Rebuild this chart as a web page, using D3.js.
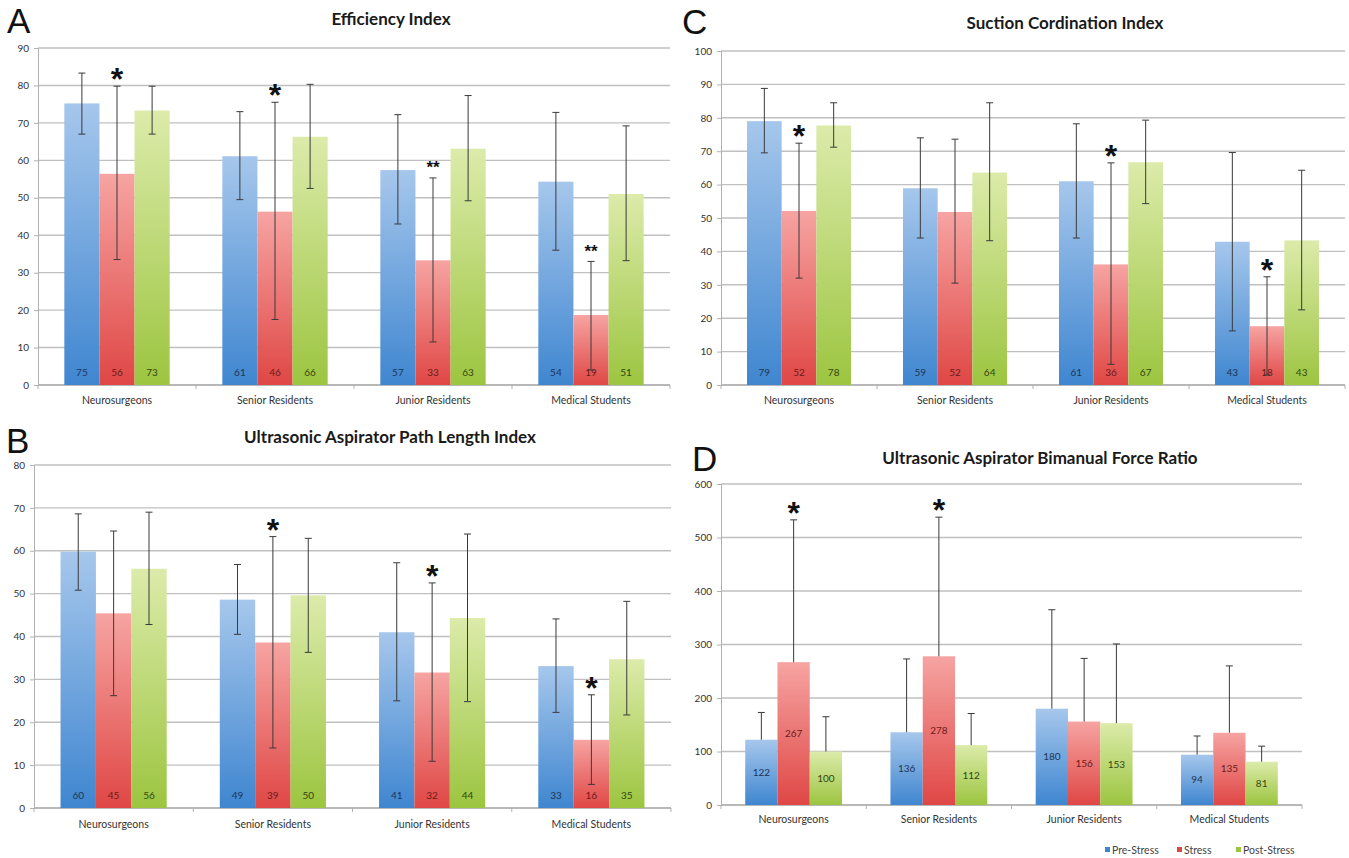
<!DOCTYPE html>
<html>
<head>
<meta charset="utf-8">
<script src="https://cdn.jsdelivr.net/npm/d3@7"></script>
<style>
  body { margin: 0; background: #fff; }
  svg { display: block; }
</style>
</head>
<body>
<div id="chart"></div>
<script>
const categories = ["Neurosurgeons", "Senior Residents", "Junior Residents", "Medical Students"];
const seriesNames = ["Pre-Stress", "Stress", "Post-Stress"];

// A - Efficiency Index (rows = categories, cols = Pre / Stress / Post)
const effMean = [[75.2, 56.4, 73.3], [61.1, 46.3, 66.3], [57.4, 33.3, 63.1], [54.3, 18.7, 51.0]];
const effLow  = [[67, 33.5, 67], [49.5, 17.5, 52.5], [43, 11.5, 49.2], [36, 4, 33.2]];
const effHigh = [[83.3, 79.8, 79.8], [73, 75.5, 80.3], [72.2, 55.3, 77.3], [72.8, 33, 69.2]];
const effStars = [["Neurosurgeons", "*"], ["Senior Residents", "*"], ["Junior Residents", "**"], ["Medical Students", "**"]];
const effTicks = d3.range(0, 91, 10);

// B - Ultrasonic Aspirator Path Length Index
const pathMean = [[59.8, 45.4, 55.8], [48.6, 38.6, 49.6], [41.0, 31.6, 44.3], [33.1, 15.9, 34.7]];
const pathLow  = [[50.8, 26.2, 42.8], [40.5, 14, 36.3], [25, 10.9, 24.8], [22.3, 5.5, 21.7]];
const pathHigh = [[68.6, 64.6, 69], [56.8, 63.3, 62.9], [57.2, 52.5, 63.9], [44.1, 26.4, 48.2]];
const pathStars = [["Senior Residents", "*"], ["Junior Residents", "*"], ["Medical Students", "*"]];
const pathTicks = d3.range(0, 81, 10);

// C - Suction Cordination Index
const sucMean = [[79.0, 52.1, 77.7], [58.9, 51.8, 63.6], [61.0, 36.1, 66.7], [42.9, 17.6, 43.3]];
const sucLow  = [[69.5, 32, 71.2], [44, 30.5, 43.2], [44, 6.2, 54.3], [16.2, 3, 22.5]];
const sucHigh = [[88.8, 72.4, 84.5], [74, 73.6, 84.5], [78.2, 66.5, 79.3], [69.6, 32.4, 64.3]];
const sucStars = [["Neurosurgeons", "*"], ["Junior Residents", "*"], ["Medical Students", "*"]];
const sucTicks = d3.range(0, 101, 10);

// D - Ultrasonic Aspirator Bimanual Force Ratio (upper error only)
const forceMean = [[122, 267, 100], [136, 278, 112], [180, 156, 153], [94, 135, 81]];
const forceHigh = [[173, 533, 165], [273, 538, 171], [365, 274, 301], [129, 260, 110]];
const forceStars = [["Neurosurgeons", "*"], ["Senior Residents", "*"]];
const forceTicks = d3.range(0, 601, 100);

const colorTop = { "Pre-Stress": "#a6c7ec", "Stress": "#f6a4a2", "Post-Stress": "#dcebaa" };
const colorBottom = { "Pre-Stress": "#3f86d0", "Stress": "#df4745", "Post-Stress": "#9cc540" };
const labelColor = { "Pre-Stress": "#1d3557", "Stress": "#6b1a1a", "Post-Stress": "#34460e" };

const svg = d3.select("#chart").append("svg")
  .attr("width", 1349)
  .attr("height", 858);

const defs = svg.append("defs");
seriesNames.forEach((s, i) => {
  const grad = defs.append("linearGradient")
    .attr("id", "grad" + i)
    .attr("x1", 0).attr("y1", 0).attr("x2", 0).attr("y2", 1);
  grad.append("stop").attr("offset", "0%").attr("stop-color", colorTop[s]);
  grad.append("stop").attr("offset", "100%").attr("stop-color", colorBottom[s]);
});

const panels = [
  { letter: "A", title: "Efficiency Index", mean: effMean, low: effLow, high: effHigh, stars: effStars,
    ticks: effTicks, max: 90, left: 38, right: 670, top: 48, bottom: 385, titleX: 391, titleY: 25,
    letterX: 7, letterY: 33, catY: 404, labelMode: "base" },
  { letter: "C", title: "Suction Cordination Index", mean: sucMean, low: sucLow, high: sucHigh, stars: sucStars,
    ticks: sucTicks, max: 100, left: 721, right: 1345, top: 51, bottom: 385, titleX: 1065, titleY: 29,
    letterX: 682, letterY: 34, catY: 404, labelMode: "base" },
  { letter: "B", title: "Ultrasonic Aspirator Path Length Index", mean: pathMean, low: pathLow, high: pathHigh, stars: pathStars,
    ticks: pathTicks, max: 80, left: 34, right: 671, top: 465, bottom: 808, titleX: 390, titleY: 443,
    letterX: 6, letterY: 453, catY: 828, labelMode: "base" },
  { letter: "D", title: "Ultrasonic Aspirator Bimanual Force Ratio", mean: forceMean, low: null, high: forceHigh, stars: forceStars,
    ticks: forceTicks, max: 600, left: 721, right: 1302, top: 484, bottom: 805, titleX: 1040, titleY: 464,
    letterX: 692, letterY: 471, catY: 823, labelMode: "center" }
];

panels.forEach(drawPanel);
drawLegend();

function drawPanel(p) {
  const g = svg.append("g");

  const x0 = d3.scaleBand().domain(categories).range([p.left, p.right]);
  const x1 = d3.scaleBand().domain(seriesNames).range([0, x0.bandwidth()])
    .paddingInner(0).paddingOuter(0.75);
  const y = d3.scaleLinear().domain([0, p.max]).range([p.bottom, p.top]);

  // gridlines
  g.selectAll(".grid")
    .data(p.ticks)
    .enter()
    .append("line")
    .attr("x1", p.left).attr("x2", p.right)
    .attr("y1", d => y(d)).attr("y2", d => y(d))
    .attr("stroke", "#c0c0c0")
    .attr("stroke-width", 1.4);

  // y axis
  const yAxis = g.append("g")
    .attr("transform", `translate(${p.left},0)`)
    .call(d3.axisLeft(y).tickValues(p.ticks).tickSize(4).tickPadding(5).tickFormat(d3.format("d")));
  yAxis.select(".domain").attr("stroke", "#b0b0b0");
  yAxis.selectAll(".tick line").attr("stroke", "#b0b0b0");
  yAxis.selectAll("text").attr("fill", "#333").style("font-family", "Lato, 'Open Sans', sans-serif").style("font-size", "10px");

  // x baseline with ticks at category boundaries
  g.append("line")
    .attr("x1", p.left).attr("x2", p.right)
    .attr("y1", y(0)).attr("y2", y(0))
    .attr("stroke", "#b0b0b0").attr("stroke-width", 1.4);
  const edges = categories.map(c => x0(c)).concat([x0.range()[1]]);
  g.selectAll(".xtick")
    .data(edges)
    .enter()
    .append("line")
    .attr("x1", d => d).attr("x2", d => d)
    .attr("y1", y(0)).attr("y2", y(0) + 4)
    .attr("stroke", "#b0b0b0");

  // category labels
  g.selectAll(".cat")
    .data(categories)
    .enter()
    .append("text")
    .attr("x", d => x0(d) + x0.bandwidth() / 2)
    .attr("y", p.catY)
    .attr("text-anchor", "middle")
    .attr("fill", "#333")
    .style("font-family", "Lato, 'Open Sans', sans-serif")
    .style("font-size", "10.5px")
    .text(d => d);

  // flat records
  const recs = [];
  categories.forEach((c, i) => {
    seriesNames.forEach((s, j) => {
      recs.push({ cat: c, series: s, si: j, v: p.mean[i][j],
        lo: p.low ? p.low[i][j] : p.mean[i][j], hi: p.high[i][j] });
    });
  });

  // bars
  g.selectAll(".bar")
    .data(recs)
    .enter()
    .append("rect")
    .attr("x", d => x0(d.cat) + x1(d.series))
    .attr("y", d => y(d.v))
    .attr("width", x1.bandwidth())
    .attr("height", d => y(0) - y(d.v))
    .attr("fill", d => `url(#grad${d.si})`);

  // value labels
  g.selectAll(".val")
    .data(recs)
    .enter()
    .append("text")
    .attr("x", d => x0(d.cat) + x1(d.series) + x1.bandwidth() / 2)
    .attr("y", d => p.labelMode === "center" ? y(d.v / 2) : y(0) - 13)
    .attr("dy", "0.35em")
    .attr("text-anchor", "middle")
    .attr("fill", d => labelColor[d.series])
    .style("font-family", "Lato, 'Open Sans', sans-serif")
    .style("font-size", "10px")
    .text(d => Math.round(d.v));

  // error bars
  const cap = 3.5;
  const eb = g.selectAll(".err")
    .data(recs)
    .enter()
    .append("g")
    .attr("stroke", "#3a3a3a")
    .attr("stroke-width", 1);
  const cx = d => x0(d.cat) + x1(d.series) + x1.bandwidth() / 2;
  eb.append("line")
    .attr("x1", cx).attr("x2", cx)
    .attr("y1", d => y(d.lo)).attr("y2", d => y(d.hi));
  eb.append("line")
    .attr("x1", d => cx(d) - cap).attr("x2", d => cx(d) + cap)
    .attr("y1", d => y(d.hi)).attr("y2", d => y(d.hi));
  eb.filter(() => p.low !== null).append("line")
    .attr("x1", d => cx(d) - cap).attr("x2", d => cx(d) + cap)
    .attr("y1", d => y(d.lo)).attr("y2", d => y(d.lo));

  // significance stars over the Stress bar
  g.selectAll(".star")
    .data(p.stars)
    .enter()
    .append("text")
    .attr("x", d => x0(d[0]) + x1("Stress") + x1.bandwidth() / 2)
    .attr("y", d => {
      const i = categories.indexOf(d[0]);
      const fs = d[1] === "*" ? 32 : 17;
      return y(p.high[i][1]) - 14 + 0.56 * fs;
    })
    .attr("text-anchor", "middle")
    .attr("fill", "#111")
    .style("font-family", "'Liberation Sans', Arial, sans-serif")
    .style("font-weight", "bold")
    .style("font-size", d => (d[1] === "*" ? 32 : 17) + "px")
    .text(d => d[1]);

  // title and panel letter
  g.append("text")
    .attr("x", p.titleX).attr("y", p.titleY)
    .attr("text-anchor", "middle")
    .attr("fill", "#1a1a1a")
    .style("font-family", "Lato, 'Open Sans', sans-serif")
    .style("font-weight", "bold")
    .style("font-size", "17px")
    .text(p.title);

  g.append("text")
    .attr("x", p.letterX).attr("y", p.letterY)
    .attr("fill", "#111")
    .style("font-family", "'Liberation Sans', Arial, sans-serif")
    .style("font-size", "35px")
    .text(p.letter);
}

function drawLegend() {
  const items = [["Pre-Stress", 1105], ["Stress", 1177], ["Post-Stress", 1236]];
  const lg = svg.append("g");
  items.forEach(([s, x]) => {
    lg.append("rect")
      .attr("x", x).attr("y", 847)
      .attr("width", 5).attr("height", 5)
      .attr("fill", colorBottom[s]);
    lg.append("text")
      .attr("x", x + 7).attr("y", 853.5)
      .attr("fill", "#444")
      .style("font-family", "Lato, 'Open Sans', sans-serif")
      .style("font-size", "10.5px")
      .text(s);
  });
}
</script>
</body>
</html>
